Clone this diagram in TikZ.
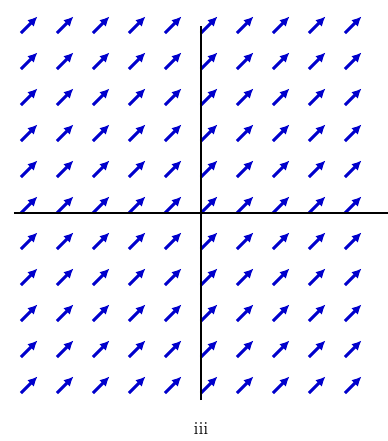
\documentclass[tikz,border=0pt]{standalone}
\definecolor{campoAzul}{HTML}{0000CC}
\usepackage{tikz}
\usetikzlibrary{arrows.meta}
\tikzset{
	vector/.style={
		-{Latex[length=2.7mm, width=2.6mm]},
		line width=2.4pt,
		campoAzul
	},
	eje/.style={
		line width=1.6pt,
		black
	}
}
\begin{document}
\begin{tikzpicture}
		\useasboundingbox (-5.583,-6.333) rectangle (5.194,5.917);
		\foreach \x in {-5,...,4}{
			\foreach \y in {-5,...,5}{
				\draw[vector] (\x,\y) -- ++(0.46,0.46);
			}
		}
		\draw[eje] (-5.2,0) -- (5.2,0);
		\draw[eje] (0,-5.2) -- (0,5.2);
		\node[font=\Large] (etiqueta) at (0,-6.0) {iii};
	\end{tikzpicture}
\end{document}
